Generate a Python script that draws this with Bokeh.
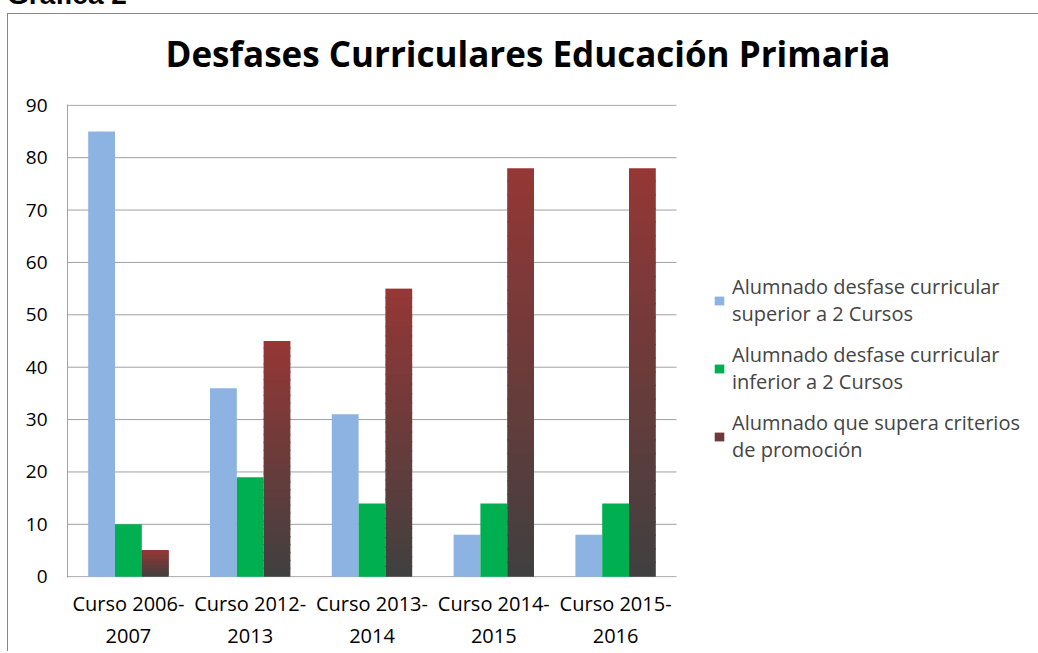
import numpy as np
from bokeh.plotting import figure
from bokeh.models import (Range1d, FixedTicker, Legend, LegendItem, ColumnDataSource, Div)
from bokeh.layouts import column
from bokeh.embed import file_html
from bokeh.resources import INLINE

# ---- data ----
categories = ["Curso 2006-\n2007", "Curso 2012-\n2013", "Curso 2013-\n2014",
              "Curso 2014-\n2015", "Curso 2015-\n2016"]
superior = [85, 36, 31, 8, 8]
inferior = [10, 19, 14, 14, 14]
supera = [5, 45, 55, 78, 78]
series_names = ["Alumnado desfase curricular\nsuperior a 2 Cursos",
                "Alumnado desfase curricular\ninferior a 2 Cursos",
                "Alumnado que supera criterios\nde promoción"]
y_ticks = [0, 10, 20, 30, 40, 50, 60, 70, 80, 90]
chart_title = "Desfases Curriculares Educación Primaria"
header_text = "Gráfica 2"

# ---- styles ----
FONT = "Open Sans"
BLUE = "#8DB3E2"
GREEN = "#00B050"
RED_TOP = (0x95, 0x37, 0x35)
RED_BOT = (0x40, 0x40, 0x40)
GRID = "#A0A0A0"
BORDER = "#868686"
BW = 0.22

n = len(categories)
centers = [i + 0.5 for i in range(n)]
# the frame extends under the legend; the category area keeps 609 px for n groups
x_end = n * (1030 - 59) / 609.0

p = figure(width=1030, height=558, x_range=Range1d(0, x_end), y_range=Range1d(-0.15, 90.15),
           output_backend="svg", toolbar_location=None,
           min_border_left=59, min_border_right=0, min_border_top=11, min_border_bottom=73)
p.outline_line_color = None
p.background_fill_color = "white"
p.border_fill_color = "white"

# grid lines limited to the category area
p.segment(x0=0, x1=n, y0=y_ticks, y1=y_ticks, line_color=GRID, line_width=1)

src_blue = ColumnDataSource(dict(x=[c - BW for c in centers], top=superior))
src_green = ColumnDataSource(dict(x=[c for c in centers], top=inferior))
r_blue = p.vbar(x="x", top="top", bottom=0, width=BW, source=src_blue,
                fill_color=BLUE, line_color=None)
r_green = p.vbar(x="x", top="top", bottom=0, width=BW, source=src_green,
                 fill_color=GREEN, line_color=None)

# gradient bars built as stacked slices from the data values
N = 30
L, R, B, T, C = [], [], [], [], []
for c, h in zip(centers, supera):
    x0 = c + BW - BW / 2
    x1 = c + BW + BW / 2
    for k in range(N):
        t = (k + 0.5) / N
        col = tuple(int(round(RED_BOT[j] + (RED_TOP[j] - RED_BOT[j]) * t)) for j in range(3))
        L.append(x0); R.append(x1)
        B.append(h * k / N)
        T.append(h if k == N - 1 else h * (k + 1) / N + 0.25)
        C.append("#%02x%02x%02x" % col)
src_red = ColumnDataSource(dict(left=L, right=R, bottom=B, top=T, color=C))
r_red = p.quad(left="left", right="right", bottom="bottom", top="top", source=src_red,
               fill_color="color", line_color=None)

# axes
p.yaxis.ticker = FixedTicker(ticks=y_ticks)
p.yaxis.major_tick_line_color = None
p.yaxis.minor_tick_line_color = None
p.yaxis.axis_line_color = GRID
p.yaxis.major_label_text_font = FONT
p.yaxis.major_label_text_font_size = "19px"
p.yaxis.major_label_text_color = "#000000"
p.yaxis.major_label_standoff = 14

p.xaxis.ticker = FixedTicker(ticks=centers)
p.xaxis.major_label_overrides = {c: lab for c, lab in zip(centers, categories)}
p.xaxis.major_tick_line_color = None
p.xaxis.minor_tick_line_color = None
p.xaxis.axis_line_color = None
p.xaxis.major_label_text_font = FONT
p.xaxis.major_label_text_font_size = "20px"
p.xaxis.major_label_text_color = "#000000"
p.xaxis.major_label_standoff = 6

p.xgrid.grid_line_color = None
p.ygrid.grid_line_color = None

# legend
legend = Legend(items=[LegendItem(label=series_names[0], renderers=[r_blue]),
                       LegendItem(label=series_names[1], renderers=[r_green]),
                       LegendItem(label=series_names[2], renderers=[r_red], index=N // 2)],
                location=(646, 114), label_text_font=FONT, label_text_font_size="20px",
                glyph_width=12, glyph_height=11, spacing=14, label_standoff=7,
                border_line_color=None, background_fill_alpha=0, padding=0, margin=0)
p.add_layout(legend, "center")

title_div = Div(text=chart_title, width=1030, height=79, margin=0,
                styles={"font-family": FONT, "font-weight": "bold", "font-size": "35px",
                        "line-height": "79px", "text-align": "center", "text-indent": "10px",
                        "color": "#000000", "white-space": "nowrap"})

chart = column(title_div, p, spacing=0, margin=(4, 0, 0, 7),
               styles={"border-left": "1px solid " + BORDER, "border-top": "1px solid " + BORDER})

header = Div(text=header_text, width=200, height=28, margin=(-19, 0, 0, 7),
             styles={"font-family": "Liberation Sans", "font-weight": "bold",
                     "font-size": "28px", "line-height": "28px", "color": "#000000"})

layout = column(header, chart, spacing=0)
open("out.html", "w").write(file_html(layout, INLINE))
